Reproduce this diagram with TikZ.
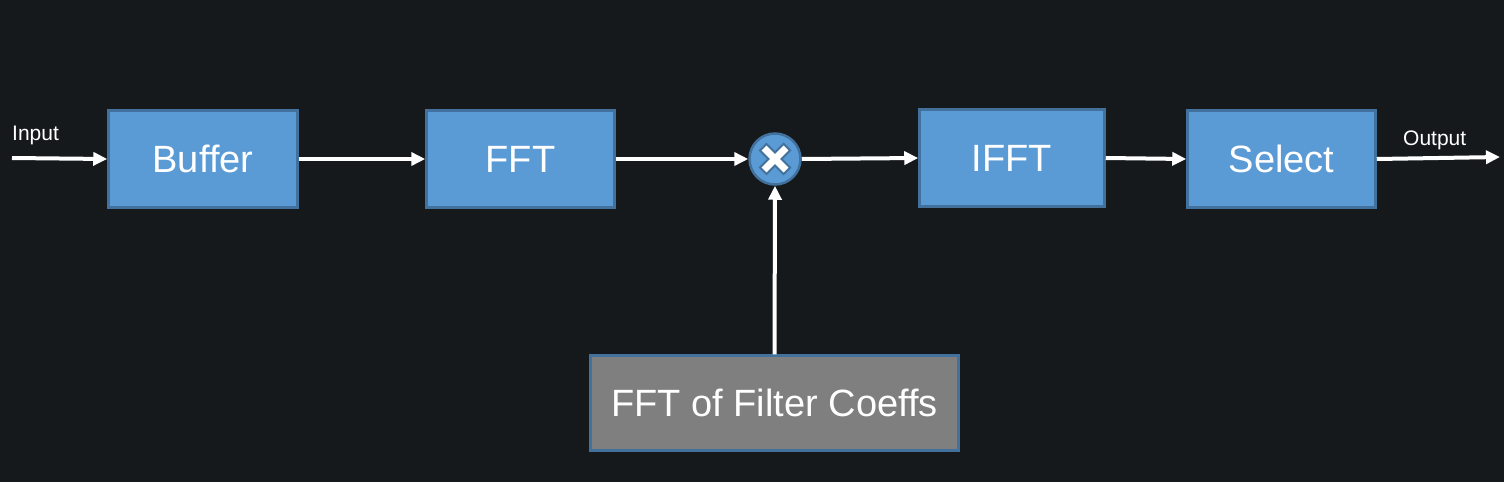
\documentclass[tikz,border=0pt]{standalone}
\usepackage{fontspec}
\setmainfont{Liberation Sans}
\usetikzlibrary{arrows.meta}
\definecolor{bg}{HTML}{16191C}
\definecolor{boxfill}{HTML}{5B9BD5}
\definecolor{boxline}{HTML}{41719C}
\definecolor{grayfill}{HTML}{7F7F7F}
\begin{document}
\begin{tikzpicture}[x=1pt,y=-1pt,
  blk/.style={draw=boxline,line width=2.5pt,fill=boxfill,text=white,inner sep=0pt,
    font=\fontsize{38}{45}\selectfont},
  lbl/.style={text=white,inner sep=0pt,font=\fontsize{21}{25}\selectfont},
  conn/.style={draw=white,line width=4pt,-{Triangle[length=14pt,width=13pt]}}]
\fill[bg] (0,0) rectangle (1504,482);
\useasboundingbox (0,0) rectangle (1504,482);
\node[blk,minimum width=189pt,minimum height=97pt] (buf) at (203,159) {Buffer};
\node[blk,minimum width=188pt,minimum height=97pt] (fft) at (520.5,159) {FFT};
\node[blk,minimum width=185pt,minimum height=97pt] (ifft) at (1012,158) {IFFT};
\node[blk,minimum width=188pt,minimum height=97pt] (sel) at (1281.5,159) {Select};
\node[blk,fill=grayfill,minimum width=368pt,minimum height=95pt] (coef) at (774.5,403) {FFT of Filter Coeffs};
\node[circle,draw=boxline,line width=2.5pt,fill=boxfill,minimum size=51pt,inner sep=0pt] (mul) at (775,159) {};
\draw[line width=11pt,line cap=butt,draw=boxline] (mul.center) ++(-12.5,-12.5) -- ++(25,25) (mul.center) ++(12.5,-12.5) -- ++(-25,25);
\draw[white,line width=7pt] (mul.center) ++(-11,-11) -- ++(22,22) (mul.center) ++(11,-11) -- ++(-22,22);
\coordinate (in) at (12,158);
\coordinate (out) at (1500,157);
\node[lbl,anchor=south west] (inl) at (12,145) {Input};
\node[lbl,anchor=south west] (outl) at (1403,150) {Output};
\draw[conn] (in) -- (buf.west);
\draw[conn] (buf.east) -- (fft.west);
\draw[conn] (fft.east) -- (mul.west);
\draw[conn] (mul.east) -- (ifft.west);
\draw[conn] (ifft.east) -- (sel.west);
\draw[conn] (sel.east) -- (out);
\draw[conn] (coef.north) -- (mul.south);
\end{tikzpicture}
\end{document}
